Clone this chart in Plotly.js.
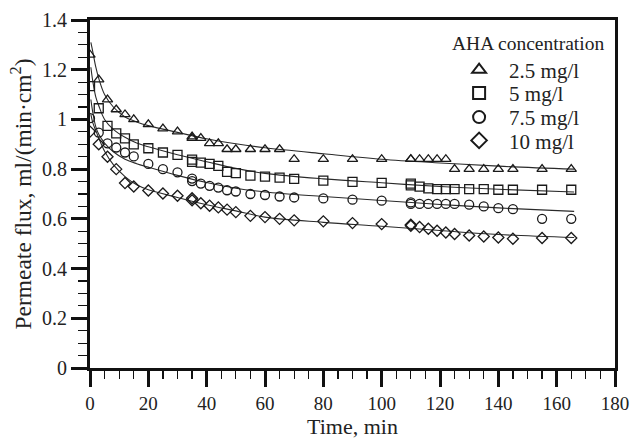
<!DOCTYPE html>
<html>
<head>
<meta charset="utf-8">
<script src="https://cdn.plot.ly/plotly-3.0.1.min.js"></script>
<style>html,body{margin:0;padding:0;background:#fff;}#chart{width:631px;height:440px;}</style>
</head>
<body>
<div id="chart"></div>
<script>
// Measured times (min)
const times = [0, 3, 6, 9, 12, 15, 20, 25, 30, 35, 35, 38, 41, 44, 47, 50, 55, 60, 65, 70, 80, 90, 100, 110, 110, 113, 116, 119, 122, 125, 130, 135, 140, 145, 155, 165];
// Permeate flux data, ml/(min·cm²)
const flux25 = [1.26, 1.16, 1.08, 1.04, 1.02, 1.00, 0.98, 0.963, 0.951, 0.931, 0.925, 0.925, 0.904, 0.904, 0.88, 0.88, 0.88, 0.88, 0.88, 0.84, 0.84, 0.84, 0.84, 0.84, 0.84, 0.84, 0.84, 0.84, 0.84, 0.80, 0.80, 0.80, 0.80, 0.80, 0.80, 0.80];
const flux5 = [1.134, 1.045, 0.974, 0.944, 0.924, 0.90, 0.884, 0.867, 0.857, 0.838, 0.829, 0.826, 0.821, 0.813, 0.789, 0.784, 0.774, 0.77, 0.766, 0.761, 0.754, 0.749, 0.745, 0.742, 0.735, 0.73, 0.723, 0.72, 0.72, 0.72, 0.72, 0.72, 0.717, 0.717, 0.717, 0.717];
const flux75 = [1.005, 0.947, 0.904, 0.887, 0.867, 0.851, 0.821, 0.80, 0.787, 0.762, 0.752, 0.742, 0.733, 0.726, 0.715, 0.71, 0.70, 0.696, 0.69, 0.686, 0.682, 0.677, 0.673, 0.666, 0.66, 0.66, 0.66, 0.66, 0.66, 0.66, 0.657, 0.65, 0.643, 0.639, 0.60, 0.60];
const flux10 = [0.951, 0.90, 0.85, 0.80, 0.744, 0.73, 0.714, 0.702, 0.693, 0.683, 0.675, 0.663, 0.653, 0.646, 0.637, 0.627, 0.612, 0.607, 0.60, 0.594, 0.59, 0.583, 0.579, 0.576, 0.572, 0.567, 0.56, 0.552, 0.545, 0.539, 0.533, 0.529, 0.525, 0.52, 0.523, 0.523];
// Fitted curves
const fitTimes = [0.3, 1, 2, 3, 5, 8, 12, 16, 20, 30, 40, 50, 60, 80, 100, 120, 140, 166];
const fit25 = [1.31, 1.27, 1.21, 1.165, 1.10, 1.05, 1.01, 0.99, 0.975, 0.948, 0.922, 0.902, 0.886, 0.862, 0.840, 0.825, 0.812, 0.80];
const fit5 = [1.21, 1.15, 1.09, 1.055, 1.00, 0.96, 0.928, 0.905, 0.89, 0.858, 0.83, 0.803, 0.783, 0.761, 0.745, 0.73, 0.719, 0.708];
const fit75 = [1.08, 1.025, 0.97, 0.94, 0.905, 0.87, 0.84, 0.822, 0.808, 0.775, 0.746, 0.723, 0.708, 0.69, 0.674, 0.658, 0.644, 0.63];
const fit10 = [1.02, 0.985, 0.955, 0.925, 0.872, 0.818, 0.77, 0.737, 0.717, 0.686, 0.657, 0.632, 0.607, 0.586, 0.57, 0.553, 0.537, 0.525];
const seriesNames = ["2.5 mg/l", "5 mg/l", "7.5 mg/l", "10 mg/l"];
const legendTitle = "AHA concentration";
const symbols = ["triangle-up-open", "square-open", "circle-open", "diamond-open"];

const dataSets = [flux25, flux5, flux75, flux10];
const fitSets = [fit25, fit5, fit75, fit10];
const legendIds = ['legend', 'legend2', 'legend3', 'legend4'];
const markerSizes = [9, 9, 9, 8.5];
const traces = [];
fitSets.forEach(f => traces.push({
  x: fitTimes, y: f, mode: 'lines', type: 'scatter', showlegend: false,
  line: {color: '#2a2a2a', width: 1.1, shape: 'spline', smoothing: 1}, hoverinfo: 'skip'
}));
dataSets.forEach((d, i) => traces.push({
  x: times, y: d, mode: 'markers', type: 'scatter', name: seriesNames[i], legend: legendIds[i],
  marker: {symbol: symbols[i], size: markerSizes[i], color: '#1a1a1a', line: {color: '#1a1a1a', width: 1.3}}
}));

const font = {family: 'Liberation Serif, Times New Roman, serif', color: '#222'};
const rowsY = [0.856, 0.789, 0.720, 0.653];
function mkLegend(y) {
  return {
    x: 0.684, y: y, xanchor: 'left', yanchor: 'middle',
    bgcolor: 'rgba(0,0,0,0)', borderwidth: 0,
    font: Object.assign({size: 21}, font),
    itemwidth: 50, itemsizing: 'constant'
  };
}
const layout = {
  width: 631, height: 440,
  margin: {l: 90, r: 16, t: 20, b: 72},
  paper_bgcolor: '#fff', plot_bgcolor: '#fff',
  font: Object.assign({size: 18}, font),
  showlegend: true,
  legend: mkLegend(rowsY[0]), legend2: mkLegend(rowsY[1]), legend3: mkLegend(rowsY[2]), legend4: mkLegend(rowsY[3]),
  annotations: [{
    text: legendTitle, xref: 'paper', yref: 'paper', x: 0.686, y: 0.933,
    xanchor: 'left', yanchor: 'middle', showarrow: false, font: Object.assign({size: 19.5}, font)
  }],
  xaxis: {
    range: [0, 180], dtick: 20, tick0: 0,
    showgrid: false, zeroline: false,
    showline: true, linecolor: '#111', linewidth: 3, mirror: true,
    ticks: 'outside', ticklen: 16, tickwidth: 3, tickcolor: '#111',
    minor: {dtick: 5, ticklen: 8, tickwidth: 1.2, tickcolor: '#111', ticks: 'outside', showgrid: false},
    tickfont: Object.assign({size: 19}, font), ticklabeloverflow: 'allow',
    title: {text: 'Time, min', font: Object.assign({size: 22}, font), standoff: 6}
  },
  yaxis: {
    range: [0, 1.4], dtick: 0.2, tick0: 0,
    showgrid: false, zeroline: false,
    showline: true, linecolor: '#111', linewidth: 3, mirror: true,
    ticks: 'outside', ticklen: 16, tickwidth: 3, tickcolor: '#111',
    minor: {dtick: 0.05, ticklen: 9, tickwidth: 1.2, tickcolor: '#111', ticks: 'outside', showgrid: false},
    tickfont: Object.assign({size: 20}, font),
    title: {text: 'Permeate flux, ml/(min·cm<sup>2</sup>)', font: Object.assign({size: 23.5}, font), standoff: 4}
  }
};
Plotly.newPlot('chart', traces, layout, {displayModeBar: false, staticPlot: true});
</script>
</body>
</html>
